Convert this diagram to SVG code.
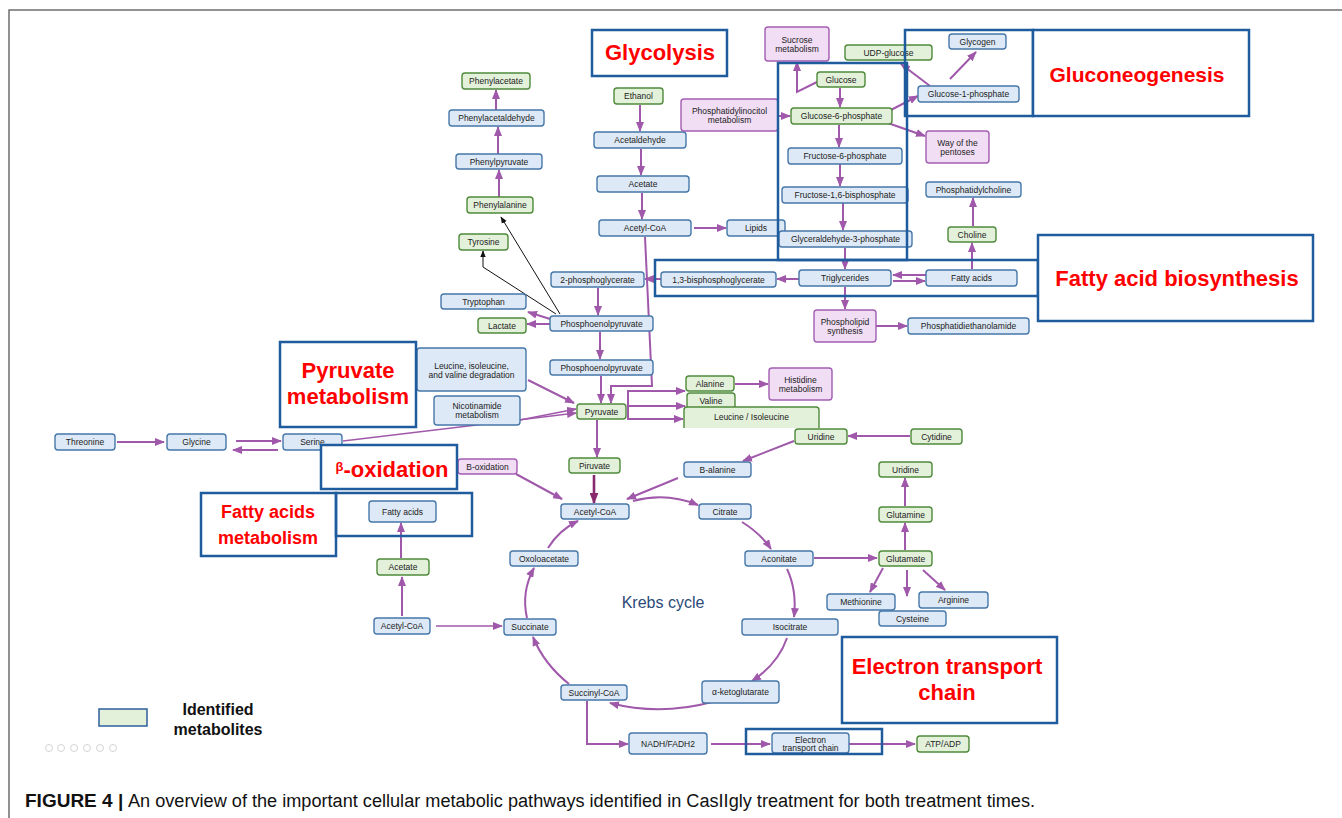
<svg xmlns="http://www.w3.org/2000/svg" width="1342" height="818" viewBox="0 0 1342 818">
<style>
.b{fill:#dde9f6;stroke:#4677a9;stroke-width:1.4}
.g{fill:#e3f1da;stroke:#4f8a3b;stroke-width:1.4}
.p{fill:#f1ddf4;stroke:#a35db3;stroke-width:1.4}
.t{font-family:"Liberation Sans",Arial,sans-serif;font-size:8.5px;fill:#222;text-anchor:middle}
.lb{fill:#fff;stroke:#1f5c9e;stroke-width:2.5}
.enc{fill:none;stroke:#1f5c9e;stroke-width:2.5}
.lt{font-family:"Liberation Sans",Arial,sans-serif;font-weight:bold;fill:#ff0000;text-anchor:middle}
.c{fill:none;stroke:#a059aa;stroke-width:2;marker-end:url(#ah)}
.cn{fill:none;stroke:#a059aa;stroke-width:1.5;marker-end:url(#ah)}
.cd{fill:none;stroke:#8a2a6e;stroke-width:2.6;marker-end:url(#ahd)}
.k{fill:none;stroke:#111;stroke-width:1;marker-end:url(#ahk)}
</style>
<defs>
<marker id="ah" viewBox="0 0 10 8" refX="9" refY="4" markerWidth="10" markerHeight="8" markerUnits="userSpaceOnUse" orient="auto"><path d="M0,0 L10,4 L0,8 z" fill="#a059aa"/></marker>
<marker id="ahd" viewBox="0 0 10 8" refX="9" refY="4" markerWidth="11" markerHeight="9" markerUnits="userSpaceOnUse" orient="auto"><path d="M0,0 L10,4 L0,8 z" fill="#8a2a6e"/></marker>
<marker id="ahk" viewBox="0 0 10 8" refX="9" refY="4" markerWidth="7" markerHeight="6" markerUnits="userSpaceOnUse" orient="auto"><path d="M0,0 L10,4 L0,8 z" fill="#111"/></marker>
</defs>
<rect x="0" y="0" width="1342" height="818" fill="#fff"/>
<path d="M9,818 L9,10 L1342,10" fill="none" stroke="#6e6e6e" stroke-width="1.5"/>

<g id="connectors">
<path class="c" d="M496,110 L496,90"/>
<path class="c" d="M498,154 L498,127"/>
<path class="c" d="M499,197 L499,170"/>
<path class="k" d="M560,314 L501,217"/>
<path class="k" d="M556,314 L483,267 L483,251"/>
<path class="c" d="M640,105 L640,131"/>
<path class="c" d="M641,149 L641,175"/>
<path class="c" d="M642,193 L642,219"/>
<path class="c" d="M694,228 L726,228"/>
<path class="c" d="M645,237 L652,386 L611,386 L611,403"/>
<path class="c" d="M779,116 L790,116"/>
<path class="c" d="M840,88 L840,107"/>
<path class="c" d="M817,82 L797,92 L797,62"/>
<path class="c" d="M839,125 L839,147"/>
<path class="c" d="M840,164 L840,186"/>
<path class="c" d="M843,203 L843,230"/>
<path class="c" d="M845,248 L845,269"/>
<path class="c" d="M887,112 L918,96"/>
<path class="c" d="M885,122 L925,136"/>
<path class="c" d="M930,86 L901,64"/>
<path class="c" d="M950,79 L976,52"/>
<path class="c" d="M972,269 L972,243"/>
<path class="c" d="M973,226 L973,198"/>
<path class="c" d="M926,275 L893,275"/>
<path class="c" d="M893,281 L925,281"/>
<path class="c" d="M799,279 L777,279"/>
<path class="c" d="M661,279 L645,279"/>
<path class="c" d="M845,287 L845,309"/>
<path class="c" d="M876,326 L907,326"/>
<path class="c" d="M598,288 L598,315"/>
<path class="c" d="M550,319 L528,312"/>
<path class="c" d="M550,324 L527,324"/>
<path class="c" d="M600,332 L600,359"/>
<path class="c" d="M601,376 L601,403"/>
<path class="c" d="M528,380 L574,403"/>
<path class="cn" d="M520,420 L576,409"/>
<path class="cn" d="M343,441 L576,413"/>
<path class="c" d="M627,406 L685,406"/>
<path class="c" d="M628,406 L628,391 L685,391"/>
<path class="c" d="M628,406 L628,419 L683,419"/>
<path class="c" d="M735,384 L768,384"/>
<path class="c" d="M910,436 L848,436"/>
<path class="c" d="M794,441 L743,461"/>
<path class="c" d="M678,478 L627,499"/>
<path class="c" d="M597,420 L597,457"/>
<path class="cd" d="M594,475 L594,503"/>
<path class="c" d="M516,474 L562,499"/>
<path class="c" d="M633,501 Q666,492 698,505"/>
<path class="c" d="M742,522 Q760,533 771,549"/>
<path class="c" d="M787,569 Q797,590 794,617"/>
<path class="c" d="M814,558 L877,558"/>
<path class="c" d="M905,550 L905,523"/>
<path class="c" d="M905,506 L905,478"/>
<path class="c" d="M883,568 L870,592"/>
<path class="c" d="M907,570 L907,596"/>
<path class="c" d="M923,570 L945,590"/>
<path class="c" d="M787,638 Q778,664 752,681"/>
<path class="c" d="M712,702 Q660,716 610,703"/>
<path class="c" d="M569,684 Q544,664 533,637"/>
<path class="c" d="M527,618 Q521,592 534,568"/>
<path class="c" d="M548,548 Q559,530 578,521"/>
<path class="c" d="M587,701 L587,744 L628,744"/>
<path class="c" d="M711,744 L770,744"/>
<path class="c" d="M849,744 L915,744"/>
<path class="cn" d="M436,626 L502,626"/>
<path class="c" d="M402,616 L402,577"/>
<path class="c" d="M401,558 L401,523"/>
<path class="c" d="M117,442 L164,442"/>
<path class="c" d="M236,441 L281,441"/>
<path class="c" d="M278,450 L233,450"/>
</g>

<g id="n-phenylacetate"><rect class="g" x="462" y="73" width="68" height="16" rx="3"/><text class="t" x="496" y="84">Phenylacetate</text></g>
<g id="n-phenylacetaldehyde"><rect class="b" x="449" y="110" width="95" height="16" rx="3"/><text class="t" x="496.5" y="121">Phenylacetaldehyde</text></g>
<g id="n-phenylpyruvate"><rect class="b" x="456" y="154" width="86" height="15" rx="3"/><text class="t" x="499" y="164.5">Phenylpyruvate</text></g>
<g id="n-phenylalanine"><rect class="g" x="467" y="197" width="66" height="16" rx="3"/><text class="t" x="500" y="208">Phenylalanine</text></g>
<g id="n-tyrosine"><rect class="g" x="459" y="234" width="49" height="16" rx="3"/><text class="t" x="483.5" y="245">Tyrosine</text></g>
<g id="n-ethanol"><rect class="g" x="614" y="88" width="49" height="16" rx="3"/><text class="t" x="638.5" y="99">Ethanol</text></g>
<g id="n-acetaldehyde"><rect class="b" x="594" y="132" width="92" height="16" rx="3"/><text class="t" x="640" y="143">Acetaldehyde</text></g>
<g id="n-acetate1"><rect class="b" x="597" y="176" width="92" height="16" rx="3"/><text class="t" x="643" y="187">Acetate</text></g>
<g id="n-acetylcoa1"><rect class="b" x="599" y="220" width="92" height="16" rx="3"/><text class="t" x="645" y="231">Acetyl-CoA</text></g>
<g id="n-lipids"><rect class="b" x="727" y="220" width="58" height="16" rx="3"/><text class="t" x="756" y="231">Lipids</text></g>
<g id="n-sucrose"><rect class="p" x="765" y="27" width="64" height="34" rx="3"/><text class="t" x="797" y="43">Sucrose</text><text class="t" x="797" y="51.5">metabolism</text></g>
<g id="n-udpglucose"><rect class="g" x="845" y="45" width="87" height="15" rx="3"/><text class="t" x="888.5" y="55.5">UDP-glucose</text></g>
<g id="n-glucose"><rect class="g" x="817" y="72" width="48" height="15" rx="3"/><text class="t" x="841" y="82.5">Glucose</text></g>
<g id="n-phosphatidylinocitol"><rect class="p" x="681" y="99" width="97" height="32" rx="3"/><text class="t" x="729.5" y="114">Phosphatidylinocitol</text><text class="t" x="729.5" y="122.5">metabolism</text></g>
<g id="n-glucose6p"><rect class="g" x="791" y="108" width="101" height="16" rx="3"/><text class="t" x="841.5" y="119">Glucose-6-phosphate</text></g>
<g id="n-fructose6p"><rect class="b" x="788" y="148" width="114" height="16" rx="3"/><text class="t" x="845" y="159">Fructose-6-phosphate</text></g>
<g id="n-fructose16bp"><rect class="b" x="782" y="187" width="126" height="16" rx="3"/><text class="t" x="845" y="198">Fructose-1,6-bisphosphate</text></g>
<g id="n-g3p"><rect class="b" x="779" y="231" width="133" height="16" rx="3"/><text class="t" x="845.5" y="242">Glyceraldehyde-3-phosphate</text></g>
<g id="n-glycogen"><rect class="b" x="949" y="34" width="57" height="15" rx="3"/><text class="t" x="977.5" y="44.5">Glycogen</text></g>
<g id="n-glucose1p"><rect class="b" x="918" y="86" width="101" height="16" rx="3"/><text class="t" x="968.5" y="97">Glucose-1-phosphate</text></g>
<g id="n-pentoses"><rect class="p" x="926" y="131" width="63" height="32" rx="3"/><text class="t" x="957.5" y="146">Way of the</text><text class="t" x="957.5" y="154.5">pentoses</text></g>
<g id="n-phosphatidylcholine"><rect class="b" x="926" y="182" width="95" height="15" rx="3"/><text class="t" x="973.5" y="192.5">Phosphatidylcholine</text></g>
<g id="n-choline"><rect class="g" x="948" y="227" width="48" height="15" rx="3"/><text class="t" x="972" y="237.5">Choline</text></g>
<g id="n-fattyacids-r"><rect class="b" x="926" y="270" width="91" height="16" rx="3"/><text class="t" x="971.5" y="281">Fatty acids</text></g>
<g id="n-triglycerides"><rect class="b" x="799" y="270" width="92" height="16" rx="3"/><text class="t" x="845" y="281">Triglycerides</text></g>
<g id="n-bpg13"><rect class="b" x="661" y="272" width="115" height="15" rx="3"/><text class="t" x="718.5" y="282.5">1,3-bisphosphoglycerate</text></g>
<g id="n-pg2"><rect class="b" x="551" y="272" width="93" height="15" rx="3"/><text class="t" x="597.5" y="282.5">2-phosphoglycerate</text></g>
<g id="n-tryptophan"><rect class="b" x="441" y="294" width="85" height="15" rx="3"/><text class="t" x="483.5" y="304.5">Tryptophan</text></g>
<g id="n-lactate"><rect class="g" x="478" y="318" width="48" height="15" rx="3"/><text class="t" x="502" y="328.5">Lactate</text></g>
<g id="n-pep1"><rect class="b" x="550" y="316" width="103" height="15" rx="3"/><text class="t" x="601.5" y="326.5">Phosphoenolpyruvate</text></g>
<g id="n-phospholipid"><rect class="p" x="814" y="310" width="62" height="32" rx="3"/><text class="t" x="845" y="325">Phospholipid</text><text class="t" x="845" y="333.5">synthesis</text></g>
<g id="n-phosphatidiethanolamide"><rect class="b" x="908" y="318" width="121" height="16" rx="3"/><text class="t" x="968.5" y="329">Phosphatidiethanolamide</text></g>
<g id="n-leucinedeg"><rect class="b" x="417" y="348" width="109" height="43" rx="3"/><text class="t" x="471.5" y="369">Leucine, isoleucine,</text><text class="t" x="471.5" y="377.5">and valine degradation</text></g>
<g id="n-pep2"><rect class="b" x="550" y="360" width="103" height="15" rx="3"/><text class="t" x="601.5" y="370.5">Phosphoenolpyruvate</text></g>
<g id="n-nicotinamide"><rect class="b" x="434" y="396" width="86" height="29" rx="3"/><text class="t" x="477" y="409">Nicotinamide</text><text class="t" x="477" y="417.5">metabolism</text></g>
<g id="n-pyruvate"><rect class="g" x="577" y="404" width="49" height="15" rx="3"/><text class="t" x="601.5" y="414.5">Pyruvate</text></g>
<g id="n-alanine"><rect class="g" x="686" y="376" width="48" height="15" rx="3"/><text class="t" x="710" y="386.5">Alanine</text></g>
<g id="n-histidine"><rect class="p" x="769" y="368" width="63" height="32" rx="3"/><text class="t" x="800.5" y="383">Histidine</text><text class="t" x="800.5" y="391.5">metabolism</text></g>
<g id="n-valine"><rect class="g" x="687" y="393" width="48" height="16" rx="3"/><text class="t" x="711" y="403.5">Valine</text></g>
<g id="n-leuiso"><rect x="684" y="407" width="135" height="21" fill="#e3f1da"/><path d="M684,428 L684,410 Q684,407 687,407 L816,407 Q819,407 819,410 L819,428" fill="none" stroke="#4f8a3b" stroke-width="1.4"/><text class="t" x="751.5" y="420">Leucine / Isoleucine</text></g>
<g id="n-threonine"><rect class="b" x="55" y="434" width="60" height="16" rx="3"/><text class="t" x="85" y="445">Threonine</text></g>
<g id="n-glycine"><rect class="b" x="167" y="434" width="59" height="16" rx="3"/><text class="t" x="196.5" y="445">Glycine</text></g>
<g id="n-serine"><rect class="b" x="283" y="434" width="59" height="16" rx="3"/><text class="t" x="312.5" y="445">Serine</text></g>
<g id="n-uridine1"><rect class="g" x="795" y="429" width="52" height="15" rx="3"/><text class="t" x="821" y="439.5">Uridine</text></g>
<g id="n-cytidine"><rect class="g" x="911" y="429" width="51" height="15" rx="3"/><text class="t" x="936.5" y="439.5">Cytidine</text></g>
<g id="n-boxidation"><rect class="p" x="458" y="459" width="59" height="15" rx="3"/><text class="t" x="487.5" y="469.5">B-oxidation</text></g>
<g id="n-piruvate"><rect class="g" x="569" y="458" width="51" height="15" rx="3"/><text class="t" x="594.5" y="468.5">Piruvate</text></g>
<g id="n-balanine"><rect class="b" x="684" y="462" width="67" height="15" rx="3"/><text class="t" x="717.5" y="472.5">B-alanine</text></g>
<g id="n-uridine2"><rect class="g" x="879" y="462" width="53" height="15" rx="3"/><text class="t" x="905.5" y="472.5">Uridine</text></g>
<g id="n-fattyacids-l"><rect class="b" x="369" y="501" width="67" height="21" rx="3"/><text class="t" x="402.5" y="514.5">Fatty acids</text></g>
<g id="n-acetylcoa-k"><rect class="b" x="561" y="504" width="68" height="15" rx="3"/><text class="t" x="595" y="514.5">Acetyl-CoA</text></g>
<g id="n-citrate"><rect class="b" x="699" y="504" width="52" height="15" rx="3"/><text class="t" x="725" y="514.5">Citrate</text></g>
<g id="n-glutamine"><rect class="g" x="879" y="507" width="53" height="15" rx="3"/><text class="t" x="905.5" y="517.5">Glutamine</text></g>
<g id="n-oxaloacetate"><rect class="b" x="510" y="551" width="68" height="15" rx="3"/><text class="t" x="544" y="561.5">Oxoloacetate</text></g>
<g id="n-aconitate"><rect class="b" x="745" y="551" width="68" height="15" rx="3"/><text class="t" x="779" y="561.5">Aconitate</text></g>
<g id="n-glutamate"><rect class="g" x="879" y="551" width="53" height="15" rx="3"/><text class="t" x="905.5" y="561.5">Glutamate</text></g>
<g id="n-acetate-l"><rect class="g" x="377" y="559" width="52" height="16" rx="3"/><text class="t" x="403" y="570">Acetate</text></g>
<g id="n-methionine"><rect class="b" x="827" y="594" width="68" height="16" rx="3"/><text class="t" x="861" y="605">Methionine</text></g>
<g id="n-arginine"><rect class="b" x="919" y="592" width="69" height="16" rx="3"/><text class="t" x="953.5" y="603">Arginine</text></g>
<g id="n-cysteine"><rect class="b" x="879" y="611" width="67" height="15" rx="3"/><text class="t" x="912.5" y="621.5">Cysteine</text></g>
<g id="n-acetylcoa-l"><rect class="b" x="374" y="618" width="56" height="16" rx="3"/><text class="t" x="402" y="629">Acetyl-CoA</text></g>
<g id="n-succinate"><rect class="b" x="504" y="619" width="52" height="16" rx="3"/><text class="t" x="530" y="630">Succinate</text></g>
<g id="n-isocitrate"><rect class="b" x="742" y="619" width="96" height="16" rx="3"/><text class="t" x="790" y="630">Isocitrate</text></g>
<g id="n-succinylcoa"><rect class="b" x="561" y="685" width="66" height="15" rx="3"/><text class="t" x="594" y="695.5">Succinyl-CoA</text></g>
<g id="n-akg"><rect class="b" x="702" y="681" width="77" height="22" rx="3"/><text class="t" x="740.5" y="695">α-ketoglutarate</text></g>
<g id="n-nadh"><rect class="b" x="629" y="733" width="78" height="21" rx="3"/><text class="t" x="668" y="746.5">NADH/FADH2</text></g>
<g id="n-etc"><rect class="b" x="772" y="733" width="77" height="20" rx="3"/><text class="t" x="810.5" y="742.5">Electron</text><text class="t" x="810.5" y="751">transport chain</text></g>
<g id="n-atp"><rect class="g" x="917" y="736" width="52" height="16" rx="3"/><text class="t" x="943" y="747">ATP/ADP</text></g>

<text id="krebs" x="663" y="608" font-family="Liberation Sans, Arial, sans-serif" font-size="16" fill="#2b4a78" text-anchor="middle">Krebs cycle</text>

<g id="box-glycolysis"><rect class="lb" x="592" y="30" width="135" height="46"/><text class="lt" x="660" y="60" font-size="22">Glycolysis</text></g>
<rect id="enc-glycolysis" class="enc" x="778" y="63" width="129" height="197"/>
<g id="box-gluconeogenesis"><rect class="enc" x="905" y="30" width="128" height="86"/><rect class="lb" x="1033" y="30" width="216" height="86"/><text class="lt" x="1137" y="82" font-size="21">Gluconeogenesis</text></g>
<g id="box-fattyacidbiosynthesis"><rect class="enc" x="655" y="260" width="383" height="36"/><rect class="lb" x="1038" y="235" width="275" height="86"/><text class="lt" x="1177" y="286" font-size="22">Fatty acid biosynthesis</text></g>
<g id="box-pyruvate"><rect class="lb" x="280" y="342" width="136" height="85"/><text class="lt" x="348" y="378" font-size="22">Pyruvate</text><text class="lt" x="348" y="404" font-size="22">metabolism</text></g>
<g id="box-boxidation"><rect class="lb" x="321" y="445" width="136" height="44"/><text class="lt" x="392" y="477" font-size="22"><tspan font-size="13" dy="-6">β</tspan><tspan dy="6">-oxidation</tspan></text></g>
<g id="box-fattyacidsmetabolism"><rect class="lb" x="201" y="493" width="135" height="63"/><rect class="enc" x="336" y="493" width="136" height="43"/><text class="lt" x="268" y="518" font-size="18">Fatty acids</text><text class="lt" x="268" y="544" font-size="18">metabolism</text></g>
<g id="box-etc"><rect class="lb" x="842" y="637" width="215" height="86"/><text class="lt" x="947" y="674" font-size="22">Electron transport</text><text class="lt" x="947" y="700" font-size="22">chain</text><rect class="enc" x="746" y="729" width="136" height="25"/></g>

<g id="legend"><rect x="99" y="709" width="48" height="17" fill="#e3f1da" stroke="#2e5f9a" stroke-width="1.5"/><text x="218" y="715" font-family="Liberation Sans, Arial, sans-serif" font-weight="bold" font-size="16" fill="#111" text-anchor="middle">Identified</text><text x="218" y="735" font-family="Liberation Sans, Arial, sans-serif" font-weight="bold" font-size="16" fill="#111" text-anchor="middle">metabolites</text></g>
<g id="icons" fill="none" stroke="#d4d4d4" stroke-width="1"><circle cx="49" cy="748" r="3.5"/><circle cx="61" cy="748" r="3.5"/><circle cx="74" cy="748" r="3.5"/><circle cx="87" cy="748" r="3.5"/><circle cx="100" cy="748" r="3.5"/><circle cx="113" cy="748" r="3.5"/></g>

<text id="caption" x="25" y="807" font-family="Liberation Sans, Arial, sans-serif" font-size="18" fill="#111"><tspan font-weight="bold" font-size="19">FIGURE 4 | </tspan><tspan x="128" textLength="907" lengthAdjust="spacingAndGlyphs">An overview of the important cellular metabolic pathways identified in CasIIgly treatment for both treatment times.</tspan></text>
</svg>
